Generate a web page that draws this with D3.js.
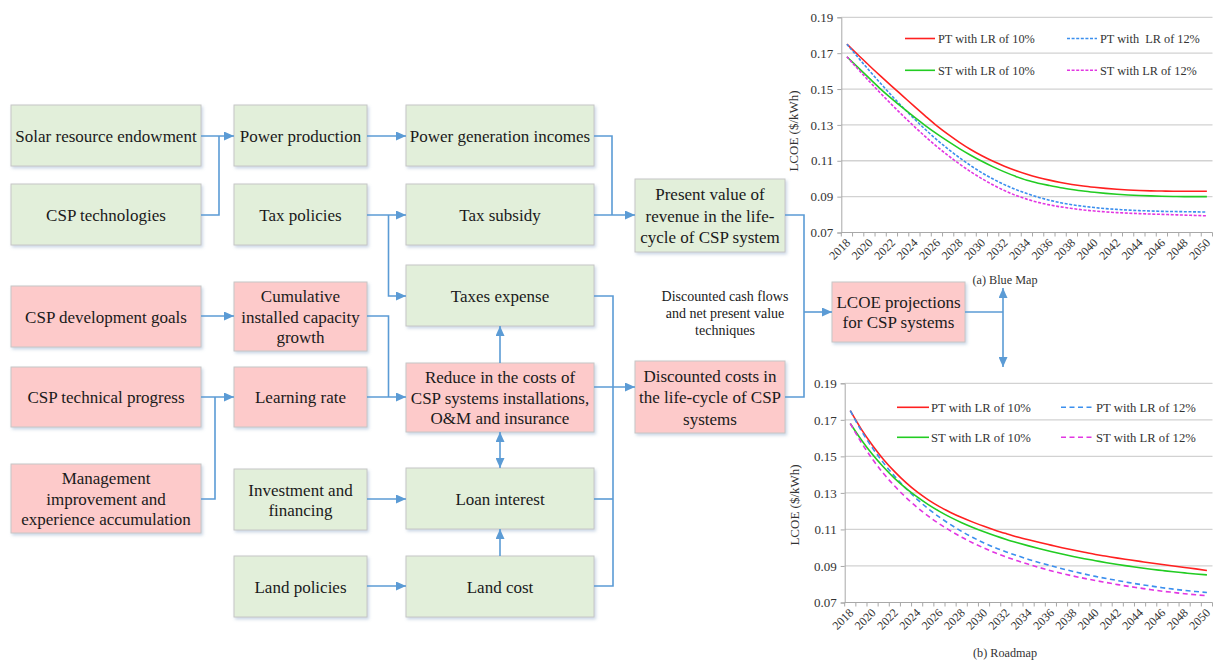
<!DOCTYPE html>
<html><head><meta charset="utf-8">
<script src="https://cdn.jsdelivr.net/npm/d3@7"></script>
<style>body{margin:0;background:#fff}svg{display:block}</style>
</head><body>
<svg id="c" width="1219" height="660"></svg>
<script>
// ---------- DATA ----------
const years = [2018,2019,2020,2021,2022,2023,2024,2025,2026,2027,2028,2029,2030,2031,2032,2033,2034,2035,2036,2037,2038,2039,2040,2041,2042,2043,2044,2045,2046,2047,2048,2049,2050];
const xTickLabels = ["2018","2020","2022","2024","2026","2028","2030","2032","2034","2036","2038","2040","2042","2044","2046","2048","2050"];
const yTickValues = [0.07,0.09,0.11,0.13,0.15,0.17,0.19];

const blueMapPT10 = [.1750,.1690,.1630,.1572,.1515,.1459,.1403,.1348,.1295,.1247,.1203,.1163,.1128,.1097,.1070,.1046,.1025,.1007,.0992,.0979,.0968,.0959,.0952,.0946,.0941,.0937,.0934,.0932,.0931,.0930,.0930,.0930,.0930];
const blueMapPT12 = [.1750,.1675,.1602,.1531,.1462,.1396,.1333,.1273,.1217,.1165,.1117,.1073,.1033,.0998,.0967,.0940,.0917,.0897,.0880,.0866,.0855,.0846,.0839,.0833,.0829,.0825,.0822,.0820,.0818,.0817,.0816,.0815,.0814];
const blueMapST10 = [.1680,.1619,.1559,.1500,.1445,.1393,.1343,.1295,.1250,.1208,.1168,.1131,.1097,.1066,.1038,.1013,.0991,.0975,.0962,.0950,.0940,.0931,.0924,.0918,.0913,.0909,.0906,.0904,.0902,.0901,.0900,.0900,.0900];
const blueMapST12 = [.1680,.1610,.1542,.1476,.1412,.1350,.1290,.1233,.1179,.1129,.1082,.1039,.1000,.0965,.0934,.0907,.0886,.0868,.0854,.0843,.0834,.0826,.0820,.0815,.0811,.0808,.0805,.0803,.0801,.0799,.0797,.0795,.0793];

const roadmapPT10 = [.1750,.1648,.1560,.1482,.1415,.1356,.1305,.1262,.1225,.1193,.1165,.1140,.1117,.1096,.1077,.1059,.1043,.1028,.1014,.1000,.0987,.0975,.0963,.0953,.0943,.0934,.0925,.0916,.0908,.0900,.0892,.0884,.0875];
const roadmapPT12 = [.1750,.1640,.1545,.1463,.1390,.1324,.1265,.1213,.1167,.1126,.1089,.1056,.1026,.1000,.0977,.0956,.0936,.0918,.0901,.0885,.0870,.0856,.0843,.0831,.0820,.0809,.0799,.0790,.0781,.0773,.0766,.0760,.0755];
const roadmapST10 = [.1680,.1590,.1510,.1440,.1378,.1325,.1278,.1236,.1199,.1166,.1137,.1111,.1087,.1065,.1045,.1027,.1010,.0994,.0979,.0965,.0952,.0940,.0929,.0918,.0908,.0899,.0890,.0882,.0875,.0868,.0862,.0856,.0851];
const roadmapST12 = [.1680,.1575,.1484,.1405,.1336,.1275,.1221,.1173,.1130,.1092,.1057,.1026,.0998,.0972,.0949,.0928,.0909,.0891,.0874,.0859,.0845,.0832,.0820,.0809,.0798,.0788,.0779,.0770,.0762,.0755,.0748,.0742,.0737];

const legendLabelsA = ["PT with LR of 10%","PT with  LR of 12%","ST with LR of 10%","ST with LR of 12%"];
const legendLabelsB = ["PT with LR of 10%","PT with LR of 12%","ST with LR of 10%","ST with LR of 12%"];
const captions = ["(a) Blue Map","(b) Roadmap"];
const yAxisTitle = "LCOE ($/kWh)";

const nodeLabels = {
  solar:["Solar resource endowment"], csptech:["CSP technologies"], power:["Power production"], taxpol:["Tax policies"],
  pgi:["Power generation incomes"], taxsub:["Tax subsidy"], pv:["Present value of","revenue in the life-","cycle of CSP system"],
  devgoals:["CSP development goals"], cumul:["Cumulative","installed capacity","growth"], taxexp:["Taxes expense"],
  techprog:["CSP technical progress"], lr:["Learning rate"], reduce:["Reduce in the costs of","CSP systems installations,","O&M and insurance"],
  disc:["Discounted costs in","the life-cycle of CSP","systems"], mgmt:["Management","improvement and","experience accumulation"],
  invest:["Investment and","financing"], loan:["Loan interest"], landpol:["Land policies"], landcost:["Land cost"],
  lcoe:["LCOE projections","for CSP systems"]
};
const nodeKind = {solar:"g",csptech:"g",power:"g",taxpol:"g",pgi:"g",taxsub:"g",pv:"g",devgoals:"p",cumul:"p",taxexp:"g",
  techprog:"p",lr:"p",reduce:"p",disc:"p",mgmt:"p",invest:"g",loan:"g",landpol:"g",landcost:"g",lcoe:"p"};
const noteLines = ["Discounted cash flows","and net present value","techniques"];

// ---------- LAYOUT ----------
const box = {
  solar:[11,105,190,61], csptech:[11,184,190,61], power:[234,105,133,61], taxpol:[234,184,133,61],
  pgi:[406,105,188,61], taxsub:[406,184,188,61], pv:[635,179,150,73],
  devgoals:[11,286,190,61], cumul:[234,282,133,69], taxexp:[406,265,188,61],
  techprog:[11,367,190,60], lr:[234,367,133,60], reduce:[406,363,188,69], disc:[635,361,150,72],
  mgmt:[11,464,190,69], invest:[234,469,133,61], loan:[406,468,188,61],
  landpol:[234,556,133,61], landcost:[406,556,188,61], lcoe:[832,282,133,60]
};
const lineGap = {pv:21.5, disc:21.5, reduce:20.3, cumul:20.3, mgmt:20.5, invest:20, lcoe:20};

const svg = d3.select("#c");
const defs = svg.append("defs");
defs.append("filter").attr("id","sh").attr("x","-10%").attr("y","-10%").attr("width","130%").attr("height","140%")
  .append("feDropShadow").attr("dx",1.5).attr("dy",2).attr("stdDeviation",1.6)
  .attr("flood-color","#8ea8c8").attr("flood-opacity",0.45);
const mk = defs.append("marker").attr("id","arr").attr("viewBox","0 0 10 9").attr("refX",10).attr("refY",4.5)
  .attr("markerWidth",10).attr("markerHeight",9).attr("markerUnits","userSpaceOnUse").attr("orient","auto-start-reverse");
mk.append("path").attr("d","M0,0L10,4.5L0,9Z").attr("fill","#5b9bd5");

const serif = "'Liberation Serif','Times New Roman',serif";
const fillG = "#e2efda", fillP = "#fdcaca";

// boxes
const gBoxes = svg.append("g");
Object.keys(box).forEach(k => {
  const [x,y,w,h] = box[k];
  gBoxes.append("rect").attr("x",x).attr("y",y).attr("width",w).attr("height",h)
    .attr("fill", nodeKind[k]==="g"?fillG:fillP).attr("stroke","#c6c6c6").attr("stroke-width",1)
    .attr("filter","url(#sh)");
  const lines = nodeLabels[k], gap = lineGap[k]||20, cy = y+h/2;
  lines.forEach((t,i) => {
    gBoxes.append("text").attr("x",x+w/2).attr("y",cy+(i-(lines.length-1)/2)*gap+6)
      .attr("text-anchor","middle").attr("font-family",serif).attr("font-size",17).attr("fill","#1a1a1a").text(t);
  });
});

// note text
noteLines.forEach((t,i)=>{
  svg.append("text").attr("x",725).attr("y",300.5+i*17).attr("text-anchor","middle")
    .attr("font-family",serif).attr("font-size",14).attr("fill","#1a1a1a").text(t);
});

// connectors
const conns = [
  {p:[[201,136],[234,136]], end:true},
  {p:[[201,215],[219,215],[219,136]]},
  {p:[[367,136],[406,136]], end:true},
  {p:[[594,136],[612,136],[612,215]]},
  {p:[[594,215],[635,215]], end:true},
  {p:[[367,215],[406,215]], end:true},
  {p:[[388.5,215],[388.5,296],[406,296]], end:true},
  {p:[[785,215],[804,215],[804,397],[785,397]]},
  {p:[[804,312],[832,312]], end:true},
  {p:[[965,312],[1003,312]]},
  {p:[[1003,288],[1003,367]], end:true, start:true},
  {p:[[201,316],[234,316]], end:true},
  {p:[[201,397],[234,397]], end:true},
  {p:[[201,499],[215,499],[215,397]]},
  {p:[[367,316],[388.5,316],[388.5,397]]},
  {p:[[367,397],[406,397]], end:true},
  {p:[[500,363],[500,326]], end:true},
  {p:[[500,432],[500,468]], end:true, start:true},
  {p:[[367,499],[406,499]], end:true},
  {p:[[367,586],[406,586]], end:true},
  {p:[[500,556],[500,529]], end:true},
  {p:[[594,296],[613,296],[613,586],[594,586]]},
  {p:[[594,499],[613,499]]},
  {p:[[594,387],[635,387]], end:true}
];
const lineGen = d3.line();
conns.forEach(c=>{
  const p = svg.append("path").attr("d",lineGen(c.p)).attr("fill","none").attr("stroke","#5b9bd5").attr("stroke-width",1.6);
  if(c.end) p.attr("marker-end","url(#arr)");
  if(c.start) p.attr("marker-start","url(#arr)");
});

// ---------- CHARTS ----------
const colors = {PT10:"#ff2020", PT12:"#3b8fee", ST10:"#22cc22", ST12:"#e236e2"};
function drawChart(cfg){
  const g = svg.append("g");
  const x = d3.scaleBand().domain(years).range([cfg.left,cfg.right]).padding(0);
  const y = d3.scaleLinear().domain([0.07,0.19]).range([cfg.bottom,cfg.top]);
  const cx = d => x(d)+x.bandwidth()/2;
  // grid
  g.selectAll(".gr").data(yTickValues.slice(1)).join("line")
    .attr("x1",cfg.left).attr("x2",cfg.right).attr("y1",d=>y(d)).attr("y2",d=>y(d))
    .attr("stroke","#d2d2d2").attr("stroke-width",1.3);
  // y axis
  const ya = d3.axisLeft(y).tickValues(yTickValues).tickFormat(d3.format(".2f")).tickSize(4).tickPadding(4);
  const yg = g.append("g").attr("transform",`translate(${cfg.left},0)`).call(ya);
  yg.select(".domain").attr("stroke","#a8a8a8");
  yg.selectAll(".tick line").attr("stroke","#a8a8a8");
  yg.selectAll("text").attr("font-family",serif).attr("font-size",13).attr("fill","#333");
  // x axis line
  g.append("line").attr("x1",cfg.left).attr("x2",cfg.right).attr("y1",cfg.bottom).attr("y2",cfg.bottom)
    .attr("stroke","#a8a8a8").attr("stroke-width",1);
  // boundary ticks
  const bounds = years.map(d=>x(d)).concat([cfg.right]);
  g.selectAll(".xt").data(bounds).join("line")
    .attr("x1",d=>d).attr("x2",d=>d).attr("y1",cfg.bottom).attr("y2",cfg.bottom+4)
    .attr("stroke","#a8a8a8");
  // x labels
  g.selectAll(".xl").data(xTickLabels).join("text")
    .attr("transform",d=>`translate(${cx(+d)+4},${cfg.bottom+11}) rotate(-45)`)
    .attr("text-anchor","end").attr("font-family",serif).attr("font-size",12).attr("fill","#333").text(d=>d);
  // y title
  g.append("text").attr("transform",`translate(${cfg.ytx},${cfg.yty}) rotate(-90)`).attr("text-anchor","middle")
    .attr("font-family",serif).attr("font-size",13).attr("fill","#333").text(yAxisTitle);
  // lines
  const ln = d3.line().x((d,i)=>cx(years[i])).y(d=>y(d)).curve(d3.curveMonotoneX);
  cfg.series.forEach(s=>{
    g.append("path").attr("d",ln(s.values)).attr("fill","none").attr("stroke",colors[s.key])
      .attr("stroke-width",1.6).attr("stroke-dasharray",s.dash?cfg.dash:null);
  });
  // legend
  cfg.series.forEach((s,i)=>{
    const col = s.key.slice(2)==="10"?0:1, row = s.key.startsWith("PT")?0:1;
    const ly = cfg.legRows[row], lx = cfg.legCols[col];
    g.append("line").attr("x1",lx[0]).attr("x2",lx[1]).attr("y1",ly).attr("y2",ly)
      .attr("stroke",colors[s.key]).attr("stroke-width",1.6).attr("stroke-dasharray",s.dash?cfg.dash:null);
    g.append("text").attr("x",lx[2]).attr("y",ly+4.5).attr("font-family",serif).attr("font-size",cfg.legFont)
      .attr("fill","#333").attr("xml:space","preserve").style("white-space","pre").text(cfg.legend[i]);
  });
  g.append("text").attr("x",1005).attr("y",cfg.capY).attr("text-anchor","middle")
    .attr("font-family",serif).attr("font-size",12.2).attr("fill","#333").text(cfg.caption);
}

drawChart({left:841.3,right:1212.5,top:17.3,bottom:232.5,dash:"3,1.6",ytx:797.5,yty:131,
  series:[{key:"PT10",values:blueMapPT10},{key:"PT12",values:blueMapPT12,dash:true},{key:"ST10",values:blueMapST10},{key:"ST12",values:blueMapST12,dash:true}],
  legend:legendLabelsA, legRows:[38.5,70.3], legCols:[[905,935,938],[1067,1097,1100]], legFont:12.3,
  caption:captions[0], capY:284});
drawChart({left:844.7,right:1212.5,top:383.3,bottom:602.5,dash:"5,3.5",ytx:798.5,yty:505,
  series:[{key:"PT10",values:roadmapPT10},{key:"PT12",values:roadmapPT12,dash:true},{key:"ST10",values:roadmapST10},{key:"ST12",values:roadmapST12,dash:true}],
  legend:legendLabelsB, legRows:[407.3,437.3], legCols:[[897,929,931],[1061,1092,1096]], legFont:12.7,
  caption:captions[1], capY:657});
</script>
</body></html>
